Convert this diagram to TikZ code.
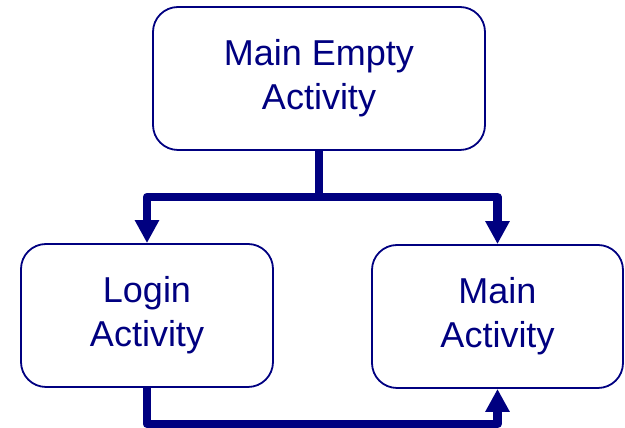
\documentclass[tikz,border=0pt]{standalone}
\usepackage{fontspec}
\setmainfont{Liberation Sans}
\usetikzlibrary{arrows.meta}
\definecolor{navy}{HTML}{000080}
\begin{document}
\begin{tikzpicture}[x=1pt,y=1pt,
  box/.style={draw=navy, line width=1.8pt, rounded corners=25pt, align=center,
    text=navy, font=\fontsize{36}{44}\selectfont, inner sep=0pt, minimum height=143pt},
  conn/.style={draw=navy, line width=8.5pt, line join=round},
  arr/.style={conn, -{Triangle[width=23pt,length=23pt]}}]
\useasboundingbox (0,0) rectangle (625,428);
\node[box, minimum width=332pt] (top) at (319,349.5) {Main Empty\\Activity};
\node[box, minimum width=252pt] (login) at (147,112.5) {Login\\Activity};
\node[box, minimum width=251pt] (main) at (497.5,111.5) {Main\\Activity};
\coordinate (j) at (top.south |- 0,231);
\draw[conn] (top.south) -- (j);
\draw[arr] (j) -| (login.north);
\draw[arr] (j) -| (main.north);
\draw[arr] (login.south) -- ++(0,-36) -| (main.south);
\end{tikzpicture}
\end{document}
